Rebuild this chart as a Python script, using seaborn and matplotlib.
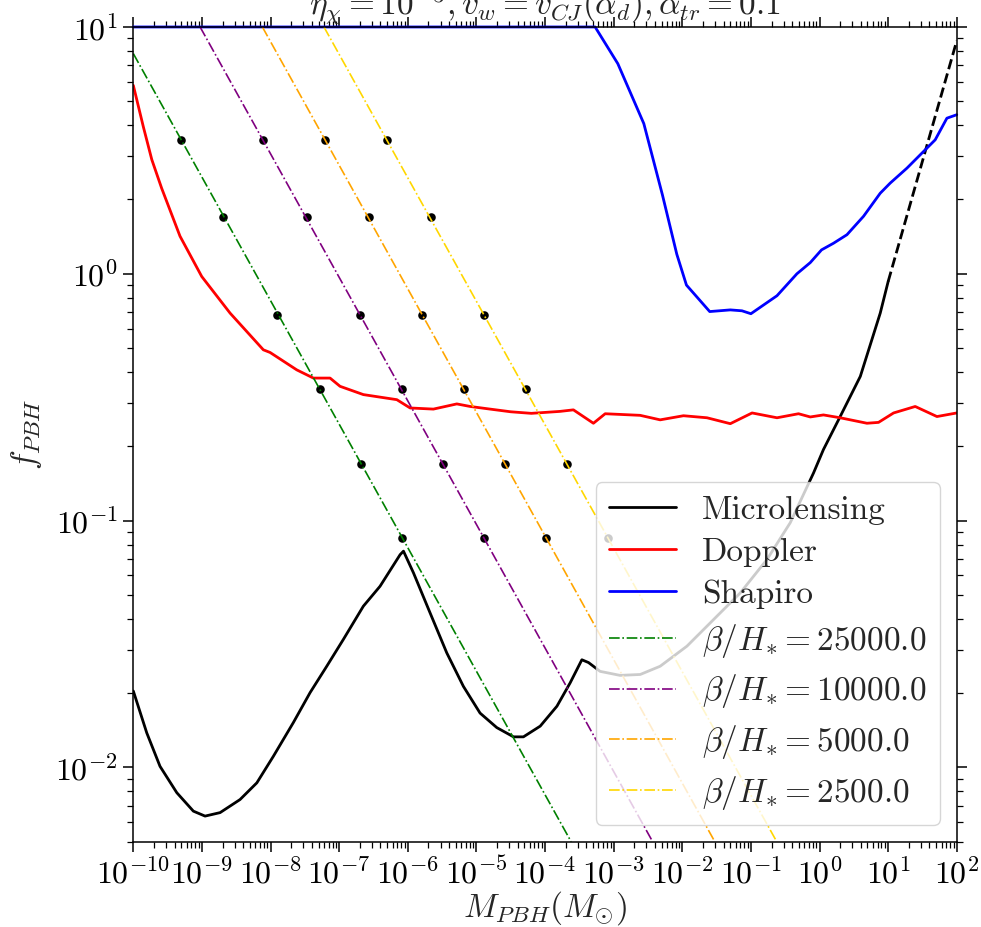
import numpy as np
import pandas as pd
import matplotlib
matplotlib.use("Agg")
import matplotlib.pyplot as plt
from matplotlib.ticker import LogLocator, NullFormatter
import seaborn as sns

# ---- constraint curves: PBH mass (solar masses) vs fraction f_PBH ----
micro_mass = [1.0e-10, 1.57e-10, 2.45e-10, 4.30e-10, 7.50e-10, 1.11e-9, 1.84e-9, 3.59e-9,
              6.31e-9, 1.10e-8, 2.15e-8, 3.77e-8, 6.59e-8, 1.15e-7, 2.25e-7, 3.94e-7,
              7.73e-7, 8.65e-7, 1.21e-6, 2.11e-6, 3.70e-6, 6.46e-6, 1.13e-5, 1.98e-5,
              3.47e-5, 4.84e-5, 8.51e-5, 1.49e-4, 2.32e-4, 3.44e-4, 4.30e-4, 6.35e-4,
              1.24e-3, 2.44e-3, 4.76e-3, 1.17e-2, 2.85e-2, 6.98e-2, 0.171, 0.374,
              0.818, 1.14, 2.00, 3.93, 7.67, 10.0]
micro_f = [0.0204, 0.0138, 0.0101, 0.0079, 0.00665, 0.00635, 0.00656, 0.00741,
           0.00866, 0.0111, 0.0152, 0.0201, 0.0257, 0.033, 0.045, 0.0542,
           0.0728, 0.0752, 0.0614, 0.0423, 0.0291, 0.0213, 0.0166, 0.0145,
           0.0133, 0.0133, 0.0147, 0.0177, 0.0220, 0.0273, 0.0266, 0.0245,
           0.0236, 0.0238, 0.0257, 0.031, 0.0397, 0.0509, 0.0695, 0.098,
           0.156, 0.194, 0.264, 0.384, 0.693, 0.93]
micro_ext_mass = [10.0, 100.0]
micro_ext_f = [0.93, 8.8]

doppler_mass = [1.0e-10, 1.40e-10, 1.86e-10, 2.59e-10, 4.79e-10, 9.93e-10, 2.57e-9, 7.85e-9,
                9.84e-9, 2.41e-8, 4.21e-8, 7.36e-8, 1.03e-7, 2.25e-7, 6.92e-7, 1.08e-6,
                2.36e-6, 5.18e-6, 8.13e-6, 1.58e-5, 3.16e-5, 6.31e-5, 1.65e-4, 2.59e-4,
                5.07e-4, 7.52e-4, 2.43e-3, 4.76e-3, 1.04e-2, 2.29e-2, 5.01e-2, 0.104,
                0.240, 0.494, 0.733, 1.14, 2.00, 4.91, 7.24, 12.0, 24.8, 51.4, 100.0]
doppler_f = [5.8, 3.94, 2.90, 2.22, 1.42, 0.975, 0.693, 0.492,
             0.48, 0.408, 0.378, 0.378, 0.350, 0.324, 0.309, 0.286,
             0.283, 0.297, 0.290, 0.283, 0.276, 0.272, 0.277, 0.281,
             0.248, 0.271, 0.267, 0.256, 0.266, 0.261, 0.247, 0.273,
             0.261, 0.271, 0.263, 0.268, 0.261, 0.248, 0.250, 0.273, 0.29, 0.264, 0.273]

shapiro_mass = [1.0e-10, 5.37e-4, 1.15e-3, 2.75e-3, 5.13e-3, 8.32e-3, 1.15e-2, 2.51e-2,
                5.01e-2, 7.41e-2, 0.1, 0.240, 0.468, 0.733, 1.07, 1.60, 2.51, 4.38,
                7.66, 10.7, 18.8, 32.8, 48.5, 71.8, 100.0]
shapiro_f = [10.0, 10.0, 7.1, 4.06, 2.09, 1.2, 0.9, 0.703,
             0.714, 0.708, 0.689, 0.815, 1.0, 1.11, 1.25, 1.33, 1.44, 1.71,
             2.12, 2.33, 2.68, 3.13, 3.49, 4.27, 4.41]

# ---- phase-transition predictions for several beta/H_* ----
beta_values = [25000.0, 10000.0, 5000.0, 2500.0]
beta_colors = ["green", "purple", "orange", "gold"]
beta_line_mass = [[1.0e-10, 2.4e-4], [9.4e-10, 3.7e-3], [7.6e-9, 2.98e-2], [6.0e-8, 0.238]]
beta_line_f = [[7.8, 5.0e-3], [10.0, 5.0e-3], [10.0, 5.0e-3], [10.0, 5.0e-3]]

dot_f = [3.5, 1.7, 0.68, 0.34, 0.17, 0.085]
dot_mass = [
    [4.9e-10, 2.06e-9, 1.26e-8, 5.19e-8, 2.06e-7, 8.17e-7],
    [7.85e-9, 3.37e-8, 2.02e-7, 8.34e-7, 3.30e-6, 1.31e-5],
    [6.28e-8, 2.70e-7, 1.61e-6, 6.67e-6, 2.64e-5, 1.05e-4],
    [5.02e-7, 2.16e-6, 1.29e-5, 5.33e-5, 2.11e-4, 8.38e-4],
]

xlim = (1e-10, 1e2)
ylim = (5e-3, 10.0)

sns.set_theme(style="ticks")
plt.rcParams.update({
    "font.family": "serif",
    "font.serif": ["cmr10"],
    "mathtext.fontset": "cm",
    "axes.formatter.use_mathtext": True,
    "axes.unicode_minus": False,
    "axes.edgecolor": "black",
    "axes.linewidth": 1.1,
})

fig = plt.figure(figsize=(9.81, 9.27), dpi=100)
ax = fig.add_axes([0.1359, 0.0920, 0.8394, 0.8789])
ax.set_xscale("log")
ax.set_yscale("log")

sns.lineplot(x=micro_mass, y=micro_f, ax=ax, color="black", lw=2.0,
             estimator=None, sort=False, label="Microlensing")
sns.lineplot(x=micro_ext_mass, y=micro_ext_f, ax=ax, color="black", lw=2.0,
             estimator=None, sort=False, linestyle="--")
sns.lineplot(x=doppler_mass, y=doppler_f, ax=ax, color="red", lw=2.0,
             estimator=None, sort=False, label="Doppler")
sns.lineplot(x=shapiro_mass, y=shapiro_f, ax=ax, color="blue", lw=2.0,
             estimator=None, sort=False, label="Shapiro", clip_on=False)

for beta, col, lm, lf, dm in zip(beta_values, beta_colors, beta_line_mass, beta_line_f, dot_mass):
    sns.scatterplot(x=dm, y=dot_f, ax=ax, color="black", s=38, linewidth=0, zorder=1.5)
    sns.lineplot(x=lm, y=lf, ax=ax, color=col, lw=1.2, linestyle="-.",
                 estimator=None, sort=False, label=rf"$\beta/H_{{*}} = {beta:.1f}$")

ax.set_xlim(*xlim)
ax.set_ylim(*ylim)

ax.xaxis.set_major_locator(LogLocator(base=10, numticks=30))
ax.xaxis.set_minor_locator(LogLocator(base=10, subs=np.arange(2, 10), numticks=30))
ax.xaxis.set_minor_formatter(NullFormatter())
ax.yaxis.set_minor_locator(LogLocator(base=10, subs=np.arange(2, 10), numticks=30))
ax.yaxis.set_minor_formatter(NullFormatter())
ax.tick_params(which="both", direction="out", top=True, right=True, colors="black",
               labelsize=23)
ax.tick_params(which="major", length=7, width=1.1, pad=4)
ax.tick_params(which="minor", length=4, width=0.9)

ax.set_xlabel(r"$M_{PBH}(M_{\odot})$", fontsize=24, labelpad=0)
ax.set_ylabel(r"$f_{PBH}$", fontsize=24, labelpad=8)
ax.set_title(r"$\eta_{\chi} = 10^{-3}, v_w = v_{CJ}(\alpha_d), \alpha_{tr} = 0.1$",
             fontsize=24, pad=8)

handles, labels = ax.get_legend_handles_labels()
leg = ax.legend(handles, labels, loc="lower right", fontsize=24, frameon=True,
                framealpha=0.8, edgecolor="0.8", fancybox=True, labelspacing=0.38,
                handlelength=2.0, handletextpad=0.8)
leg.set_zorder(5)

fig.savefig("out.png", dpi=100)
